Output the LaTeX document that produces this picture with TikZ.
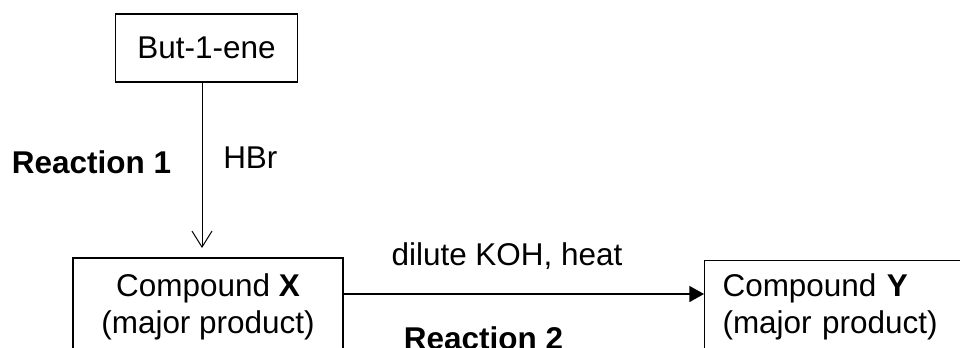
\documentclass[tikz,border=0pt]{standalone}
\usepackage{fontspec}
\setmainfont{Liberation Sans}
\usetikzlibrary{arrows.meta}
\tikzset{
  px/.style={},
  chembox/.style={draw=black, line width=0.8pt, rectangle, inner sep=0pt},
  lbl/.style={inner sep=0pt, anchor=base},
  openarrow/.style={draw=black, line width=0.75pt, -{Straight Barb[length=12pt,width=15pt,line width=0.75pt]}},
  fillarrow/.style={draw=black, line width=1.2pt, -{Triangle[length=11pt,width=12pt]}},
}
\begin{document}
\begin{tikzpicture}[x=0.75pt,y=-0.75pt,font=\fontsize{23.6pt}{27.8pt}\selectfont]
\clip (0,0) rectangle (960,347);
\fill[white] (0,0) rectangle (960,347);
% boxes
\node[chembox, minimum width=136pt, minimum height=51pt] (butene) at (206.5,48) {But-1-ene};
\node[chembox, minimum width=202.5pt, minimum height=73.5pt, align=center] (X) at (208,307)
  {Compound \textbf{X}\\(major product)};
\node[chembox, anchor=north west, minimum height=69pt, text width=198pt, inner xsep=13.5pt, align=left] (Y) at (704,260)
  {Compound \textbf{Y}\\(major product)};
% connectors
\coordinate (tip1) at (202,248);
\coordinate (lev2) at (0,294);
\draw[openarrow] (butene.south -| tip1) -- (tip1);
\draw[fillarrow] (X.east |- lev2) -- (Y.west |- lev2);
% labels
\node[lbl] (r1) at (91.5,173) {\textbf{Reaction 1}};
\node[lbl, anchor=base west] (hbr) at (223,168) {HBr};
\node[lbl] (cond2) at (507,265) {dilute KOH, heat};
\node[lbl] (r2) at (483.5,349) {\textbf{Reaction 2}};
\end{tikzpicture}
\end{document}
